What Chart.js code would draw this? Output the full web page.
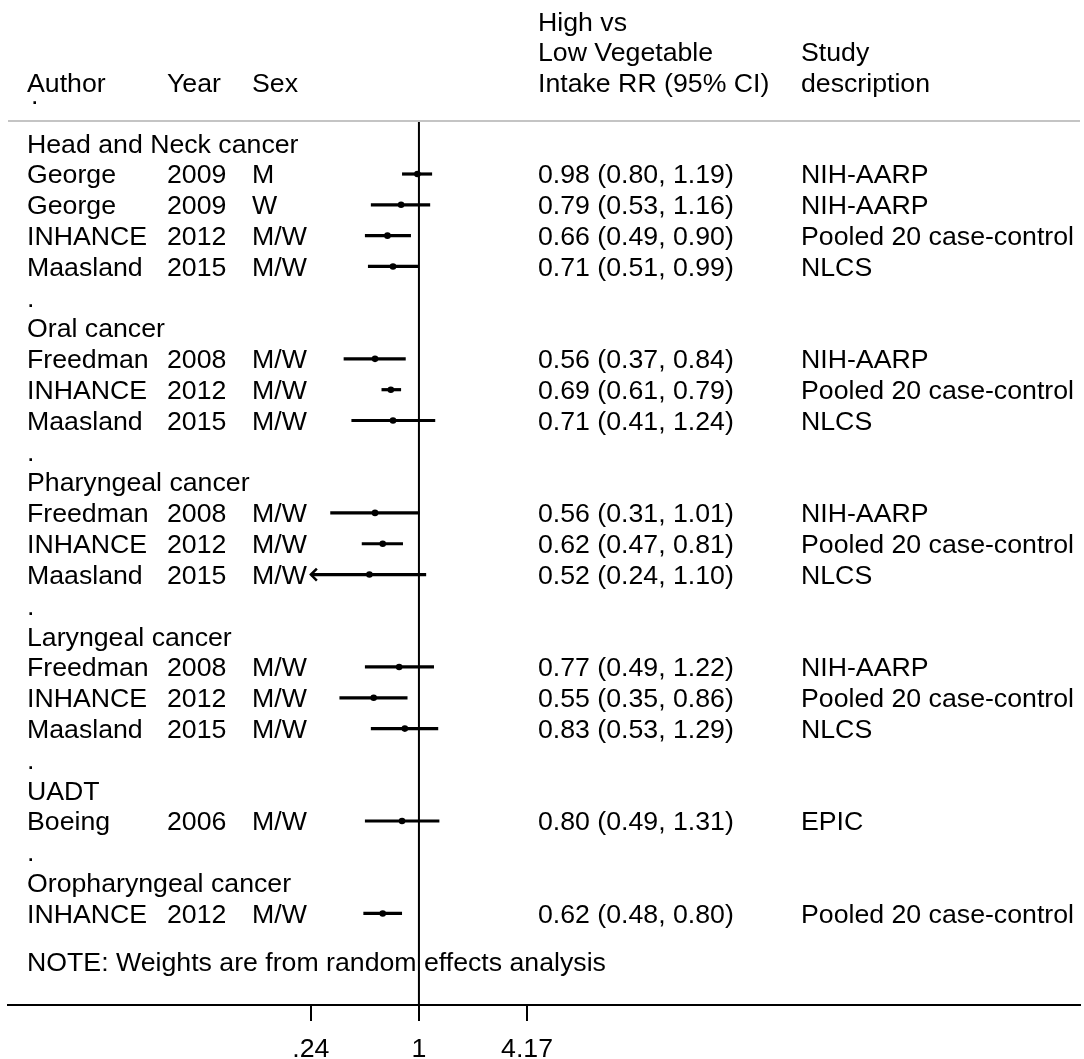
<!DOCTYPE html>
<html>
<head>
<meta charset="utf-8">
<script src="https://cdn.jsdelivr.net/npm/chart.js@4.4.0/dist/chart.umd.min.js"></script>
<style>
  html, body { margin: 0; padding: 0; background: #fff; }
</style>
</head>
<body>
<canvas id="forest" width="1084" height="1059"></canvas>
<script>
// Linhas do forest plot, de cima para baixo
const autores = ['Head and Neck cancer', 'George', 'George', 'INHANCE', 'Maasland', '.',
  'Oral cancer', 'Freedman', 'INHANCE', 'Maasland', '.',
  'Pharyngeal cancer', 'Freedman', 'INHANCE', 'Maasland', '.',
  'Laryngeal cancer', 'Freedman', 'INHANCE', 'Maasland', '.',
  'UADT', 'Boeing', '.',
  'Oropharyngeal cancer', 'INHANCE'];
const anos = ['', '2009', '2009', '2012', '2015', '',
  '', '2008', '2012', '2015', '',
  '', '2008', '2012', '2015', '',
  '', '2008', '2012', '2015', '',
  '', '2006', '',
  '', '2012'];
const sexos = ['', 'M', 'W', 'M/W', 'M/W', '',
  '', 'M/W', 'M/W', 'M/W', '',
  '', 'M/W', 'M/W', 'M/W', '',
  '', 'M/W', 'M/W', 'M/W', '',
  '', 'M/W', '',
  '', 'M/W'];
const rr = [null, 0.98, 0.79, 0.66, 0.71, null,
  null, 0.56, 0.69, 0.71, null,
  null, 0.56, 0.62, 0.52, null,
  null, 0.77, 0.55, 0.83, null,
  null, 0.80, null,
  null, 0.62];
const icInf = [null, 0.80, 0.53, 0.49, 0.51, null,
  null, 0.37, 0.61, 0.41, null,
  null, 0.31, 0.47, 0.24, null,
  null, 0.49, 0.35, 0.53, null,
  null, 0.49, null,
  null, 0.48];
const icSup = [null, 1.19, 1.16, 0.90, 0.99, null,
  null, 0.84, 0.79, 1.24, null,
  null, 1.01, 0.81, 1.10, null,
  null, 1.22, 0.86, 1.29, null,
  null, 1.31, null,
  null, 0.80];
const descricoes = ['', 'NIH-AARP', 'NIH-AARP', 'Pooled 20 case-control', 'NLCS', '',
  '', 'NIH-AARP', 'Pooled 20 case-control', 'NLCS', '',
  '', 'NIH-AARP', 'Pooled 20 case-control', 'NLCS', '',
  '', 'NIH-AARP', 'Pooled 20 case-control', 'NLCS', '',
  '', 'EPIC', '',
  '', 'Pooled 20 case-control'];
const nota = 'NOTE: Weights are from random effects analysis';
const ticksX = [0.24, 1, 4.17];

const fonte = '"Liberation Sans", Arial, Helvetica, sans-serif';
const tamFonte = 26.7;

// escala: .24 em x=312 e 4.17 em x=529, area do grafico de x=8 a x=1084
const pxPorLn = (529 - 312) / Math.log(ticksX[2] / ticksX[0]);
const xUm = 312 + pxPorLn * Math.log(1 / ticksX[0]);
const xMin = Math.exp((8 - xUm) / pxPorLn);
const xMax = Math.exp((1084 - xUm) / pxPorLn);

// linhas: linha 0 em y=143, passo 30.8, area de y=121 a y=1005
const passo = 30.81;
const yMin = -(143.2 - 121) / passo;
const yMax = (1005 - 143.2) / passo;

// Montar datasets
const datasets = [];
rr.forEach((v, i) => {
  if (v === null) return;
  datasets.push({
    data: [{ x: Math.max(icInf[i], ticksX[0]), y: i }, { x: icSup[i], y: i }],
    showLine: true,
    borderColor: '#000',
    borderWidth: 3.2,
    pointRadius: 0,
  });
});
datasets.push({
  data: rr.map((v, i) => (v === null ? null : { x: v, y: i })).filter((p) => p),
  pointRadius: 3.3,
  pointBackgroundColor: '#000',
  pointBorderWidth: 0,
  showLine: false,
});
// linha de referencia em RR = 1
datasets.push({
  data: [{ x: 1, y: yMin }, { x: 1, y: yMax }],
  showLine: true,
  borderColor: '#000',
  borderWidth: 2,
  pointRadius: 0,
});

function texto(ctx, str, x, y) {
  ctx.fillText(str, x, y);
}

const pluginTextos = {
  id: 'textos',
  afterDraw(chart) {
    const ctx = chart.ctx;
    const sx = chart.scales.x;
    const sy = chart.scales.y;
    ctx.save();
    ctx.fillStyle = '#000';
    ctx.font = `${tamFonte}px ${fonte}`;
    ctx.textBaseline = 'middle';
    ctx.textAlign = 'left';

    // cabecalho
    texto(ctx, 'High vs', 538, 24);
    texto(ctx, 'Low Vegetable', 538, 54);
    texto(ctx, 'Intake RR (95% CI)', 538, 85);
    texto(ctx, 'Study', 801, 54);
    texto(ctx, 'description', 801, 85);
    texto(ctx, 'Author', 27, 85);
    texto(ctx, 'Year', 167, 85);
    texto(ctx, 'Sex', 252, 85);
    texto(ctx, '.', 31, 97);

    // linha cinza do topo
    ctx.strokeStyle = '#c4c4c4';
    ctx.lineWidth = 2;
    ctx.beginPath();
    ctx.moveTo(chart.chartArea.left, chart.chartArea.top);
    ctx.lineTo(chart.chartArea.right, chart.chartArea.top);
    ctx.stroke();

    // colunas das linhas
    autores.forEach((a, i) => {
      const y = sy.getPixelForValue(i) + 2;
      texto(ctx, a, 27, y);
      if (anos[i]) texto(ctx, anos[i], 167, y);
      if (sexos[i]) texto(ctx, sexos[i], 252, y);
      if (rr[i] !== null) {
        texto(ctx, `${rr[i].toFixed(2)} (${icInf[i].toFixed(2)}, ${icSup[i].toFixed(2)})`, 538, y);
      }
      if (descricoes[i]) texto(ctx, descricoes[i], 801, y);
    });
    texto(ctx, nota, 27, sy.getPixelForValue(autores.length + 0.55) + 2);

    // setas para IC fora do eixo
    ctx.strokeStyle = '#000';
    ctx.lineWidth = 2.5;
    rr.forEach((v, i) => {
      if (v === null || icInf[i] > ticksX[0]) return;
      const x = sx.getPixelForValue(ticksX[0]);
      const y = sy.getPixelForValue(i);
      ctx.beginPath();
      ctx.moveTo(x + 6, y - 6);
      ctx.lineTo(x, y);
      ctx.lineTo(x + 6, y + 6);
      ctx.stroke();
    });
    ctx.restore();
  },
};

new Chart(document.getElementById('forest'), {
  type: 'scatter',
  data: { datasets },
  options: {
    responsive: false,
    animation: false,
    layout: { padding: { top: 121, left: 8, right: 0, bottom: 0 } },
    plugins: { legend: { display: false }, tooltip: { enabled: false } },
    scales: {
      x: {
        type: 'logarithmic',
        position: 'bottom',
        min: xMin,
        max: xMax,
        afterBuildTicks: (scale) => {
          scale.ticks = ticksX.map((v) => ({ value: v }));
        },
        afterFit: (scale) => {
          scale.height = 54;
        },
        ticks: {
          color: '#000',
          font: { family: fonte, size: tamFonte },
          padding: 13,
          autoSkip: false,
          maxRotation: 0,
          callback: (v) => (v < 1 ? String(v).replace(/^0/, '') : String(v)),
        },
        grid: { drawOnChartArea: false, drawTicks: true, tickLength: 16, color: '#000', lineWidth: 2 },
        border: { display: true, color: '#000', width: 2 },
      },
      y: {
        type: 'linear',
        reverse: true,
        min: yMin,
        max: yMax,
        display: false,
      },
    },
  },
  plugins: [pluginTextos],
});
</script>
</body>
</html>
